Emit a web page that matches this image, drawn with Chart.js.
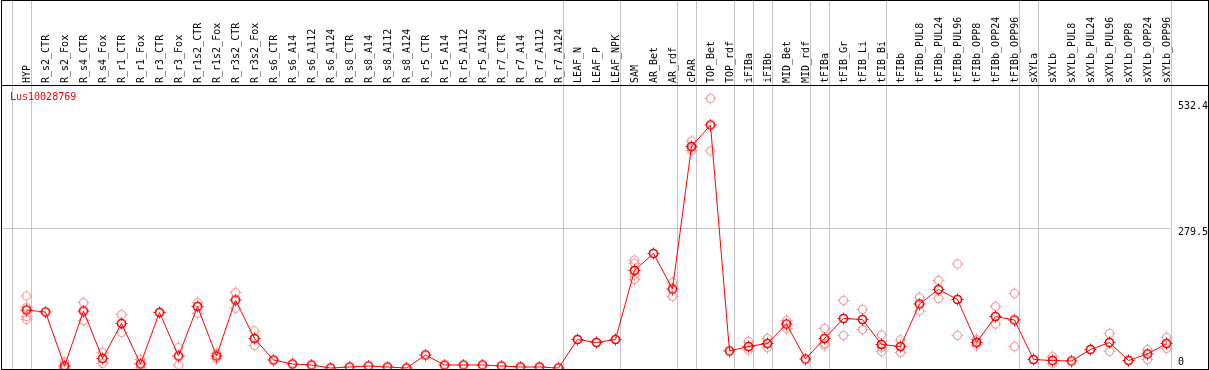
<!DOCTYPE html>
<html>
<head>
<meta charset="utf-8">
<script src="https://cdn.jsdelivr.net/npm/chart.js@4.4.1/dist/chart.umd.min.js"></script>
<style>
  html, body { margin: 0; padding: 0; background: #fff; }
  canvas { display: block; }
</style>
</head>
<body>
<canvas id="chart" width="1209" height="370"></canvas>
<script>
// gene profile across tissues / treatments

const geneName = 'Lus10028769';

const categories = [
  'HYP', 'R_s2_CTR', 'R_s2_Fox', 'R_s4_CTR', 'R_s4_Fox', 'R_r1_CTR', 'R_r1_Fox',
  'R_r3_CTR', 'R_r3_Fox', 'R_r1s2_CTR', 'R_r1s2_Fox', 'R_r3s2_CTR', 'R_r3s2_Fox',
  'R_s6_CTR', 'R_s6_A14', 'R_s6_A112', 'R_s6_A124', 'R_s8_CTR', 'R_s8_A14', 'R_s8_A112',
  'R_s8_A124', 'R_r5_CTR', 'R_r5_A14', 'R_r5_A112', 'R_r5_A124', 'R_r7_CTR', 'R_r7_A14',
  'R_r7_A112', 'R_r7_A124', 'LEAF_N', 'LEAF_P', 'LEAF_NPK', 'SAM', 'AR_Bet', 'AR_rdf',
  'cPAR', 'TOP_Bet', 'TOP_rdf', 'iFIBa', 'iFIBb', 'MID_Bet', 'MID_rdf', 'tFIBa', 'tFIB_Gr',
  'tFIB_Li', 'tFIB_Bi', 'tFIBb', 'tFIBb_PUL8', 'tFIBb_PUL24', 'tFIBb_PUL96', 'tFIBb_OPP8',
  'tFIBb_OPP24', 'tFIBb_OPP96', 'sXYLa', 'sXYLb', 'sXYLb_PUL8', 'sXYLb_PUL24', 'sXYLb_PUL96',
  'sXYLb_OPP8', 'sXYLb_OPP24', 'sXYLb_OPP96'
];

// mean expression per sample
const means = [
  116, 112, 4, 114, 19, 89, 8, 111, 24, 123, 24, 136, 59,
  16, 8, 6, 0, 2, 4, 2, 0, 26, 6, 6, 6, 4, 2, 2, 0,
  57, 51, 57, 195, 229, 158, 443, 486, 34, 43, 49, 88, 18,
  59, 99, 97, 47, 43, 128, 157, 137, 51, 103, 96,
  17, 15, 14, 37, 51, 15, 28, 49
];

// individual replicates (only those visible apart from the mean)
const replicates = [
  [144, 121, 103, 97], [], [12, 0, 0], [131, 95], [31, 9], [107, 71], [17, 0],
  [], [41, 6], [131, 109], [29, 19], [151, 119], [74, 45],
  [], [], [], [], [], [], [], [], [], [], [], [], [], [], [], [],
  [], [], [], [216, 209, 186, 177], [], [171, 143], [454, 440, 435], [539, 434],
  [], [53, 36], [59, 41], [95, 79], [], [79, 49, 46], [135, 65], [117, 77],
  [66, 41, 33], [56, 31], [141, 114], [175, 139], [208, 65], [57, 46], [123, 88], [149, 43],
  [], [23, 9], [], [], [69, 33], [], [37, 17], [61, 39]
];

const yTicks = [0, 279.5, 532.4];

// last sample of each tissue group (a separator is drawn after it)
const groupEnds = ['HYP', 'R_r7_A124', 'LEAF_NPK', 'AR_rdf', 'cPAR', 'TOP_rdf', 'iFIBa',
  'iFIBb', 'MID_rdf', 'tFIBa', 'tFIB_Bi', 'tFIBb_OPP96', 'sXYLa', 'sXYLb_OPP96'];

const RED = '#ff0000';
const PINK = '#f09c9c';
const GRID = '#c4c4c4';
const FONT = { family: '"DejaVu Sans Mono", "Liberation Mono", monospace', size: 10 };
const fontStr = '10px "DejaVu Sans Mono", "Liberation Mono", monospace';

function makeMarker(color, lw) {
  const c = document.createElement('canvas');
  c.width = 13; c.height = 13;
  const g = c.getContext('2d');
  g.strokeStyle = color;
  g.lineWidth = lw;
  g.beginPath();
  g.arc(6.5, 6.5, 4, 0, Math.PI * 2);
  g.stroke();
  g.lineWidth = 1;
  g.beginPath();
  g.moveTo(6.5, 0.5); g.lineTo(6.5, 2.5);
  g.moveTo(6.5, 10.5); g.lineTo(6.5, 12.5);
  g.moveTo(0.5, 6.5); g.lineTo(2.5, 6.5);
  g.moveTo(10.5, 6.5); g.lineTo(12.5, 6.5);
  g.stroke();
  return c;
}

const meanPoints = means.map((v, i) => ({ x: i, y: v }));
const repPoints = [];
replicates.forEach((reps, i) => reps.forEach(v => repPoints.push({ x: i, y: v })));

const separators = [-1].concat(groupEnds.map(n => categories.indexOf(n)));

const framePlugin = {
  id: 'frame',
  beforeDatasetsDraw(chart) {
    const { ctx, scales: { x } } = chart;
    ctx.save();
    ctx.strokeStyle = GRID;
    ctx.lineWidth = 1;
    separators.forEach(i => {
      const px = Math.round(x.getPixelForValue(i + 0.22)) + 0.5;
      ctx.beginPath();
      ctx.moveTo(px, 0);
      ctx.lineTo(px, chart.height);
      ctx.stroke();
    });
    ctx.restore();
  },
  afterDraw(chart) {
    const { ctx, chartArea, scales: { y } } = chart;
    ctx.save();
    ctx.strokeStyle = '#000';
    ctx.lineWidth = 1;
    ctx.strokeRect(1.5, 0.5, chart.width - 2, chart.height - 1);
    ctx.beginPath();
    ctx.moveTo(1, chartArea.top - 0.5);
    ctx.lineTo(chart.width, chartArea.top - 0.5);
    ctx.stroke();

    ctx.font = fontStr;
    ctx.textBaseline = 'middle';
    ctx.textAlign = 'left';
    ctx.fillStyle = '#000';
    yTicks.forEach(v => {
      const py = Math.min(y.getPixelForValue(v) + 4.5, chartArea.bottom - 5.5);
      ctx.fillText(String(v), chartArea.right + 8, py);
    });

    ctx.fillStyle = RED;
    ctx.fillText(geneName, 10, chartArea.top + 11.5);
    ctx.restore();
  }
};

new Chart(document.getElementById('chart'), {
  type: 'line',
  data: {
    datasets: [
      {
        label: 'mean',
        data: meanPoints,
        borderColor: RED,
        borderWidth: 1,
        pointStyle: makeMarker(RED, 1.6),
        pointRadius: 5,
        tension: 0,
        clip: false,
        order: 1
      },
      {
        label: 'replicates',
        data: repPoints,
        showLine: false,
        pointStyle: makeMarker(PINK, 1.2),
        pointRadius: 5,
        clip: false,
        order: 2
      }
    ]
  },
  plugins: [framePlugin],
  options: {
    responsive: false,
    devicePixelRatio: 1,
    animation: false,
    layout: { autoPadding: false, padding: { left: 2, right: 0, top: 0, bottom: 2 } },
    scales: {
      x: {
        type: 'linear',
        position: 'top',
        bounds: 'data',
        min: -1.29,
        max: 60.185,
        afterBuildTicks: s => { s.ticks = categories.map((_, i) => ({ value: i })); },
        afterFit: s => { s.height = 86; s.paddingLeft = 0; s.paddingRight = 0; },
        grid: { display: false, drawTicks: false },
        border: { display: false },
        ticks: {
          autoSkip: false,
          minRotation: 90,
          maxRotation: 90,
          padding: 3,
          labelOffset: 13,
          color: '#000',
          font: FONT,
          callback: v => categories[v]
        }
      },
      y: {
        type: 'linear',
        position: 'right',
        min: 0,
        max: 564,
        afterBuildTicks: s => { s.ticks = yTicks.map(v => ({ value: v })); },
        afterFit: s => { s.width = 39; s.paddingTop = 0; s.paddingBottom = 0; },
        grid: {
          drawTicks: false,
          color: c => (c.tick && c.tick.value === yTicks[1]) ? GRID : 'rgba(0,0,0,0)'
        },
        border: { display: false },
        ticks: { display: false }
      }
    },
    plugins: {
      legend: { display: false },
      tooltip: { enabled: false }
    }
  }
});
</script>
</body>
</html>
